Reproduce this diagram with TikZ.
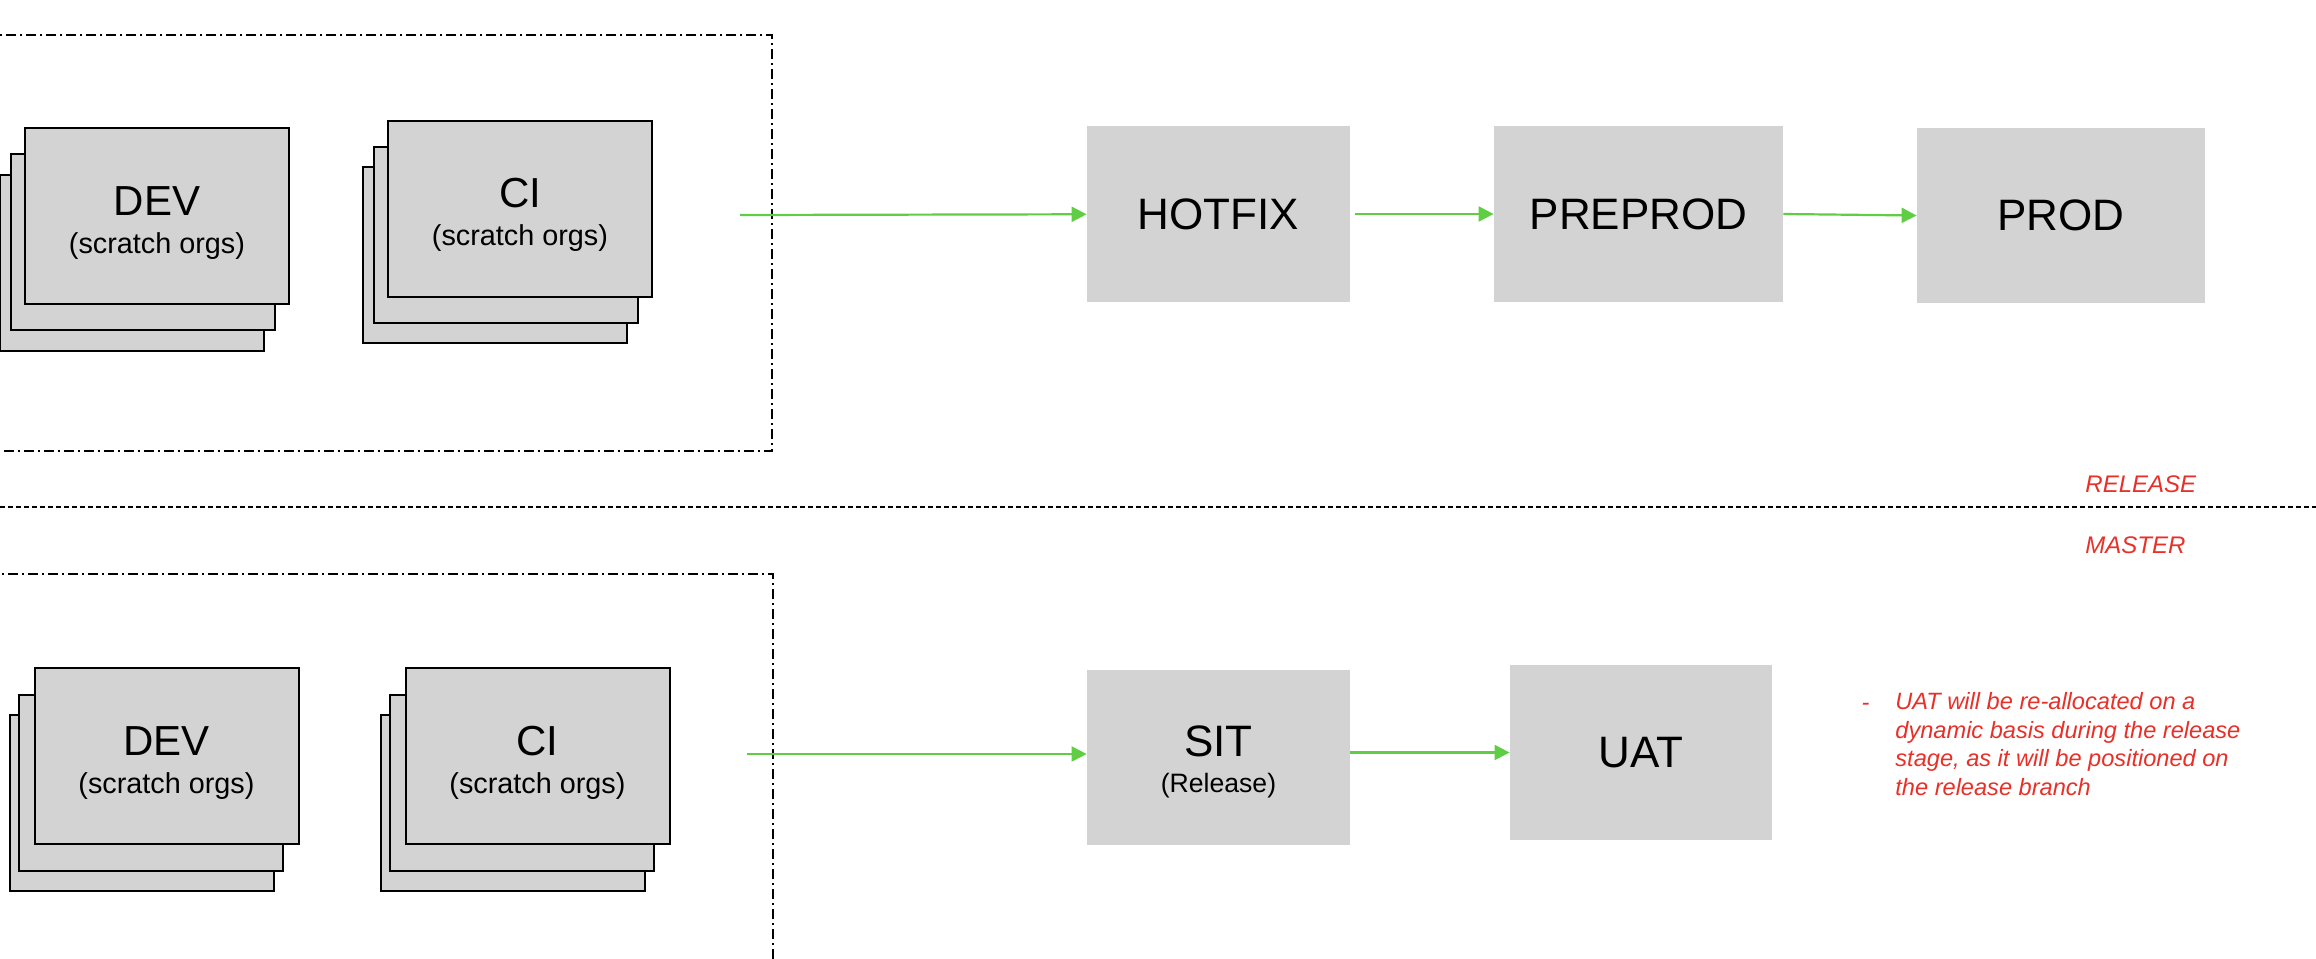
\documentclass[tikz,border=0pt]{standalone}
\usepackage{fontspec}
\setmainfont{Liberation Sans}
\usetikzlibrary{arrows.meta}
\definecolor{boxgray}{HTML}{D3D3D3}
\definecolor{arrowgreen}{RGB}{96,206,68}
\definecolor{notered}{RGB}{232,48,40}
\begin{document}
\begin{tikzpicture}[x=0.5pt,y=-0.5pt,
 orgbox/.style={draw=black, line width=1pt, fill=boxgray, minimum width=132pt, minimum height=88pt, inner sep=0pt},
 envbox/.style={fill=boxgray, inner sep=0pt, font=\fontsize{22}{26}\selectfont},
 title/.style={font=\fontsize{21}{25}\selectfont, anchor=base, inner sep=0pt},
 subtitle/.style={font=\fontsize{14.4}{17}\selectfont, anchor=base, inner sep=0pt},
 garrow/.style={draw=arrowgreen, line width=1.1pt, -{Triangle[length=7.5pt,width=7.5pt]}},
 zone/.style={draw=black, line width=0.9pt, dash pattern=on 5pt off 2pt on 1pt off 2pt},
 branch/.style={text=notered, font=\fontsize{12}{14}\selectfont\itshape, anchor=base west, inner sep=0pt},
 notetext/.style={text=notered, font=\fontsize{11.8}{14.2}\selectfont\itshape, inner sep=0pt},
]
\path[use as bounding box] (0,0) rectangle (2316,958);
\clip (0,0) rectangle (2316,958);

% zones
\draw[zone] (-20,35) rectangle (772,451);
\draw[zone] (-20,574) rectangle (773,990);
\coordinate (l1) at (0,507);
\coordinate (l2) at (2316,507);
\draw[black, line width=0.8pt, dash pattern=on 2.5pt off 1.5pt] (l1) -- (l2);

% top DEV
\node[orgbox] (devtA) at (132,263) {};
\node[orgbox] (devtB) at (142.5,242) {};
\node[orgbox] (devtC) at (157,216) {};
\node[title] (devtT) at (157,215) {DEV};
\node[subtitle] (devtS) at (157,253) {(scratch orgs)};
% top CI
\node[orgbox] (citA) at (495,255) {};
\node[orgbox] (citB) at (505.5,234.5) {};
\node[orgbox] (citC) at (520,209) {};
\node[title] (citT) at (520,207) {CI};
\node[subtitle] (citS) at (520,245) {(scratch orgs)};
% bottom DEV
\node[orgbox] (devbA) at (142,803) {};
\node[orgbox] (devbB) at (151,782.5) {};
\node[orgbox] (devbC) at (166.5,756) {};
\node[title] (devbT) at (166.5,755) {DEV};
\node[subtitle] (devbS) at (166.5,793) {(scratch orgs)};
% bottom CI
\node[orgbox] (cibA) at (512.5,803) {};
\node[orgbox] (cibB) at (522,782.5) {};
\node[orgbox] (cibC) at (537.5,756) {};
\node[title] (cibT) at (537.5,755) {CI};
\node[subtitle] (cibS) at (537.5,793) {(scratch orgs)};

% environments
\node[envbox, minimum width=131.5pt, minimum height=88pt] (hotfix) at (1218.5,214) {HOTFIX};
\node[envbox, minimum width=144.5pt, minimum height=88pt] (preprod) at (1638.5,214) {PREPROD};
\node[envbox, minimum width=144pt, minimum height=87.5pt] (prod) at (2061,215.5) {PROD};
\node[envbox, minimum width=131.5pt, minimum height=87.5pt] (sit) at (1218.5,757.5) {};
\node[title, font=\fontsize{22}{26}\selectfont] (sitT) at (1218.5,756) {SIT};
\node[subtitle, font=\fontsize{13.3}{16}\selectfont] (sitS) at (1218.5,792) {(Release)};
\node[envbox, minimum width=131pt, minimum height=87.5pt] (uat) at (1641,752.5) {UAT};

% arrows
\coordinate (s1) at (740,215);
\coordinate (s2) at (747,754);
\draw[garrow] (s1) -- (hotfix);
\draw[garrow, shorten <=2.5pt] (hotfix.east) -- (preprod.west);
\draw[garrow] (preprod.east) -- (prod.west);
\draw[garrow] (s2) -- (s2 -| sit.west);
\draw[garrow] (sit.east |- uat.west) -- (uat.west);

% labels
\node[branch] (rel) at (2085,492) {RELEASE};
\node[branch] (mas) at (2085,553) {MASTER};
\node[notetext, anchor=base] (bullet) at (1865.5,710) {-};
\node[notetext, align=left, anchor=base west] (note) at (1895,795) {UAT will be re-allocated on a\\dynamic basis during the release\\stage, as it will be positioned on\\the release branch};
\end{tikzpicture}
\end{document}
